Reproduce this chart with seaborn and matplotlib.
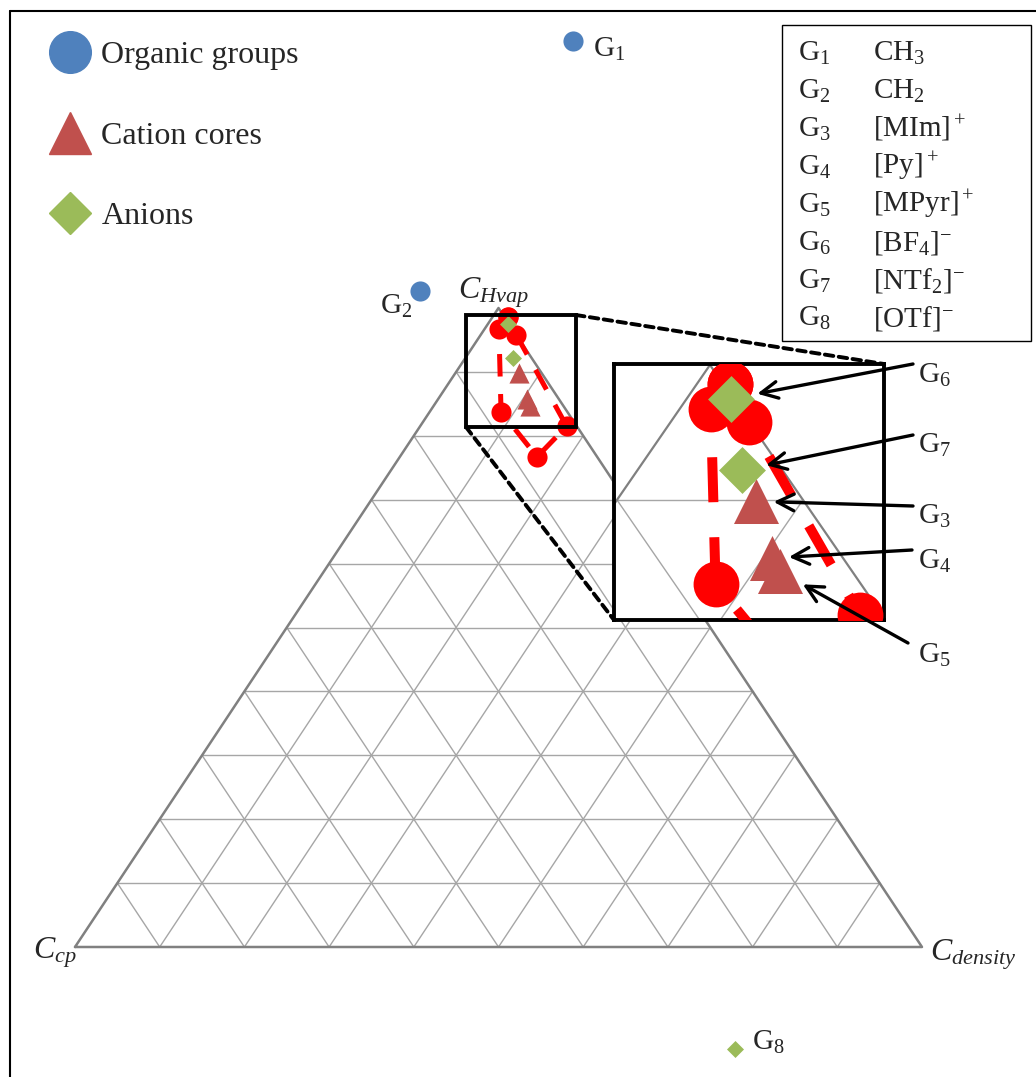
import matplotlib
matplotlib.use('Agg')
import matplotlib.pyplot as plt
from matplotlib.lines import Line2D
from matplotlib.patches import Rectangle, ConnectionPatch
import seaborn as sns
import pandas as pd

sns.set_style('white')
plt.rcParams['font.family'] = ['Liberation Serif', 'DejaVu Serif']
plt.rcParams['mathtext.fontset'] = 'custom'
plt.rcParams['mathtext.rm'] = 'Liberation Serif'
plt.rcParams['mathtext.it'] = 'Liberation Serif:italic'

# group positions as ternary fractions: Hvap (top), density (right), cp = 1 - Hvap - density
groups = ['G1', 'G2', 'G3', 'G4', 'G5', 'G6', 'G7', 'G8']
kinds = ['Organic groups', 'Organic groups', 'Cation cores', 'Cation cores',
         'Cation cores', 'Anions', 'Anions', 'Anions']
hvap = [1.418, 1.027, 0.899, 0.857, 0.847, 0.975, 0.922, -0.160]
density = [-0.121, -0.106, 0.075, 0.105, 0.114, 0.024, 0.056, 0.859]
names = ['CH$_3$', 'CH$_2$', '[MIm$]^+$', '[Py$]^+$', '[MPyr$]^+$',
         '[BF$_4]^{-}$', '[NTf$_2]^{-}$', '[OTf$]^{-}$']

# red dashed envelope, closed loop
env_hvap = [0.986, 0.967, 0.838, 0.767, 0.815, 0.958, 0.986]
env_density = [0.018, 0.017, 0.084, 0.162, 0.173, 0.042, 0.018]

kind_style = {'Organic groups': ('o', '#4F81BD'),
              'Cation cores': ('^', '#C0504D'),
              'Anions': ('D', '#9BBB59')}

W, H = 1036, 1077


def tern(a, c):
    # cartesian position in the triangle (base 0..1, apex height 1)
    return c + a / 2.0, a


df = pd.DataFrame({'group': groups, 'kind': kinds, 'hvap': hvap, 'density': density})
df['x'], df['y'] = tern(df['hvap'], df['density'])
env = pd.DataFrame({'hvap': env_hvap, 'density': env_density})
env['x'], env['y'] = tern(env['hvap'], env['density'])


def px(x, y):
    # image pixel -> main axes data
    return (x - 75) / 847.0, (947 - y) / 639.0


def fpx(x, y):
    # image pixel -> figure fraction
    return x / W, 1 - y / H


def draw_grid(axis, lw_grid, lw_edge):
    for k in range(1, 10):
        f = k / 10.0
        axis.plot([f / 2, 1 - f / 2], [f, f], color='#A6A6A6', lw=lw_grid, zorder=1)
        axis.plot([f, f + (1 - f) / 2], [0, 1 - f], color='#A6A6A6', lw=lw_grid, zorder=1)
        axis.plot([1 - f, (1 - f) / 2], [0, 1 - f], color='#A6A6A6', lw=lw_grid, zorder=1)
    axis.plot([0, 1, 0.5, 0], [0, 0, 1, 0], color='#808080', lw=lw_edge, zorder=1)


fig = plt.figure(figsize=(W / 100, H / 100), dpi=100)
ax = fig.add_axes([0, 0, 1, 1])
ax.set_xlim(px(0, 0)[0], px(W, 0)[0])
ax.set_ylim(px(0, H)[1], px(0, 0)[1])
ax.axis('off')
draw_grid(ax, 1.0, 1.8)

sns.lineplot(data=env, x='x', y='y', sort=False, estimator=None, color='red',
             lw=3.6, linestyle=(0, (4.5, 3.5)), marker='o', markersize=14.5,
             markeredgewidth=0, ax=ax, zorder=3)
main_sizes = {'Organic groups': 210, 'Cation cores': 210, 'Anions': 75}
for k, (m, c) in kind_style.items():
    sns.scatterplot(data=df[df['kind'] == k], x='x', y='y', marker=m, color=c,
                    s=main_sizes[k], linewidth=0, ax=ax, legend=False, zorder=4)

# zoom box on the main triangle
bx0, by0 = px(466, 427)
bx1, by1 = px(576, 315)
ax.add_patch(Rectangle((bx0, by0), bx1 - bx0, by1 - by0, fill=False, ec='black',
                       lw=2.8, zorder=6))

# corner labels
ax.text(*px(33, 958), '$C_{cp}$', fontsize=23, ha='left', va='baseline')
ax.text(*px(930, 960), '$C_{density}$', fontsize=23, ha='left', va='baseline')
ax.text(*px(458, 298), '$C_{Hvap}$', fontsize=23, ha='left', va='baseline')

# labels next to outlying groups
for g, xy in [('G$_1$', (593, 57)), ('G$_2$', (380, 314)), ('G$_8$', (752, 1050))]:
    ax.text(*px(*xy), g, fontsize=21, ha='left', va='baseline')

# inset (magnified top corner)
ix0, iy0, ix1, iy1 = 614, 364, 884, 620
axins = fig.add_axes([ix0 / W, 1 - iy1 / H, (ix1 - ix0) / W, (iy1 - iy0) / H])
axins.set_xlim(0.4484, 0.4484 + 270 / 1860.0)
axins.set_ylim(1.0007 - 256 / 1350.0, 1.0007)
axins.set_xticks([])
axins.set_yticks([])
for sp in axins.spines.values():
    sp.set_visible(True)
    sp.set_color('black')
    sp.set_linewidth(2.8)
draw_grid(axins, 1.0, 1.6)
sns.lineplot(data=env, x='x', y='y', sort=False, estimator=None, color='red',
             lw=7.2, linestyle=(0, (4.5, 3.5)), marker='o', markersize=33,
             markeredgewidth=0, ax=axins, zorder=3)
ins_sizes = {'Organic groups': 1000, 'Cation cores': 1050, 'Anions': 570}
for k, (m, c) in kind_style.items():
    sns.scatterplot(data=df[df['kind'] == k], x='x', y='y', marker=m, color=c,
                    s=ins_sizes[k], linewidth=0, ax=axins, legend=False, zorder=4)
axins.set_xlabel('')
axins.set_ylabel('')

# dashed connectors from zoom box to inset
for a_xy, b_xy in [((bx1, by1), (1, 1)), ((bx0, by0), (0, 0))]:
    fig.add_artist(ConnectionPatch(xyA=a_xy, coordsA=ax.transData, xyB=b_xy,
                                   coordsB=axins.transAxes, color='black', lw=2.8,
                                   linestyle=(0, (2.2, 1.4))))

# arrows pointing at the groups in the inset
arrow_start = {'G6': (913, 364), 'G7': (913, 435), 'G3': (913, 506),
               'G4': (912, 550), 'G5': (908, 643)}
arrow_shrink = {'G6': 19, 'G7': 18, 'G3': 13, 'G4': 12, 'G5': 19}
label_base = {'G6': 383, 'G7': 453, 'G3': 524, 'G4': 569, 'G5': 663}
for g in ['G6', 'G7', 'G3', 'G4', 'G5']:
    row = df[df['group'] == g].iloc[0]
    fig.add_artist(ConnectionPatch(xyA=fpx(*arrow_start[g]), coordsA=fig.transFigure,
                                   xyB=(row['x'], row['y']), coordsB=axins.transData,
                                   arrowstyle='->', mutation_scale=30, lw=2.4,
                                   color='black', shrinkA=0, shrinkB=arrow_shrink[g],
                                   zorder=10))
    fig.text(*fpx(918, label_base[g]), 'G$_%s$' % g[1], fontsize=21, ha='left',
             va='baseline')

# group table (top right)
fig.add_artist(Rectangle(fpx(782, 341), 249 / W, 316 / H, transform=fig.transFigure,
                         fill=True, fc='white', ec='black', lw=1.0))
for i, (g, n) in enumerate(zip(groups, names)):
    yb = 61 + 37.9 * i
    fig.text(*fpx(798, yb), 'G$_%s$' % g[1], fontsize=21, ha='left', va='baseline')
    fig.text(*fpx(873, yb), n, fontsize=21, ha='left', va='baseline')

# marker legend (top left)
handles = [Line2D([], [], ls='', marker='o', color='#4F81BD', markersize=30),
           Line2D([], [], ls='', marker='^', color='#C0504D', markersize=30),
           Line2D([], [], ls='', marker='D', color='#9BBB59', markersize=21)]
fig.legend(handles, list(kind_style.keys()), loc='upper left',
           bbox_to_anchor=fpx(55, 41), bbox_transform=fig.transFigure,
           frameon=False, fontsize=23, handlelength=0.95, handletextpad=0.5,
           labelspacing=1.6, borderpad=0, borderaxespad=0)

# outer frame
fig.add_artist(Line2D([10 / W, 10 / W], [0, 1 - 11 / H], transform=fig.transFigure,
                      color='black', lw=1.5))
fig.add_artist(Line2D([10 / W, 1], [1 - 11 / H, 1 - 11 / H], transform=fig.transFigure,
                      color='black', lw=1.5))

fig.savefig('out.png', dpi=100)
